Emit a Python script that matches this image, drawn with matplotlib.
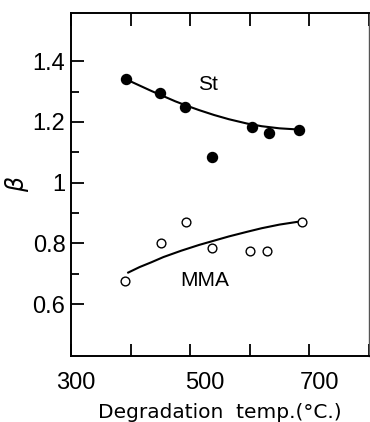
import matplotlib
matplotlib.use('Agg')
import matplotlib.pyplot as plt
import matplotlib.transforms as mtransforms

# degradation temperature (deg C) and beta for each monomer
st_temp = [393, 450, 492, 537, 603, 633, 683]
st_beta = [1.342, 1.296, 1.248, 1.086, 1.185, 1.162, 1.172]

mma_temp = [390, 451, 493, 537, 600, 629, 688]
mma_beta = [0.677, 0.801, 0.872, 0.785, 0.775, 0.775, 0.871]

# hand-drawn trend curves
st_curve_temp = [394, 415, 435, 455, 475, 495, 515, 540, 565, 595, 620, 650, 683]
st_curve_beta = [1.339, 1.320, 1.302, 1.285, 1.268, 1.253, 1.239, 1.223,
                 1.209, 1.195, 1.186, 1.179, 1.175]

mma_curve_temp = [396, 415, 435, 455, 485, 515, 540, 565, 595, 620, 650, 680]
mma_curve_beta = [0.704, 0.722, 0.738, 0.755, 0.776, 0.795, 0.809, 0.823,
                  0.838, 0.850, 0.862, 0.871]

xticks = [300, 400, 500, 600, 700, 800]
xtick_labels = ['300', '', '500', '', '700', '']
yticks = [0.6, 0.8, 1.0, 1.2, 1.4]
ytick_labels = ['0.6', '0.8', '1', '1.2', '1.4']
yminor = [0.7, 0.9, 1.1, 1.3]


def main():
    fig = plt.figure(figsize=(3.7, 4.22), dpi=100)
    ax = fig.add_axes([0.192, 0.157, 0.805, 0.813])

    ax.plot(st_curve_temp, st_curve_beta, color='black', lw=1.5)
    ax.plot(mma_curve_temp, mma_curve_beta, color='black', lw=1.5)
    ax.plot(st_temp, st_beta, 'o', color='black', ms=7.2, zorder=3)
    ax.plot(mma_temp, mma_beta, 'o', mfc='white', mec='black', mew=1.0,
            ms=6.3, zorder=3)

    ax.text(530, 1.323, 'St', fontsize=15, family='Liberation Sans',
            ha='center', va='center')
    ax.text(525, 0.679, 'MMA', fontsize=15, family='Liberation Sans',
            ha='center', va='center')

    ax.set_xlim(300, 793)
    ax.set_ylim(0.43, 1.56)

    ax.set_xticks(xticks, xtick_labels)
    ax.set_yticks(yticks, ytick_labels)
    ax.set_yticks(yminor, minor=True)

    ax.tick_params(axis='x', direction='in', length=9, width=1.3,
                   top=True, pad=12, labelsize=17)
    ax.tick_params(axis='y', which='major', direction='in', length=9,
                   width=1.3, pad=4, labelsize=17)
    ax.tick_params(axis='y', which='minor', direction='in', length=6,
                   width=1.3)
    for lab in ax.get_xticklabels() + ax.get_yticklabels():
        lab.set_family('Liberation Sans')

    # nudge the temperature labels the way they were lettered
    for lab, dx in zip(ax.get_xticklabels(), [5, 0, 15, 0, 10, 0]):
        lab.set_transform(lab.get_transform() +
                          mtransforms.ScaledTranslation(dx / 100, 0, fig.dpi_scale_trans))

    for side in ['left', 'bottom', 'top']:
        ax.spines[side].set_linewidth(1.4)
    ax.spines['right'].set_linewidth(1.0)
    ax.spines['right'].set_color('#555555')

    ax.set_xlabel('Degradation  temp.(°C.)', fontsize=14.5, labelpad=6)
    ax.set_ylabel(r'$\beta$', fontsize=17)
    ax.yaxis.set_label_coords(-0.135, 0.5)

    fig.savefig('out.png', dpi=100)


if __name__ == '__main__':
    main()
